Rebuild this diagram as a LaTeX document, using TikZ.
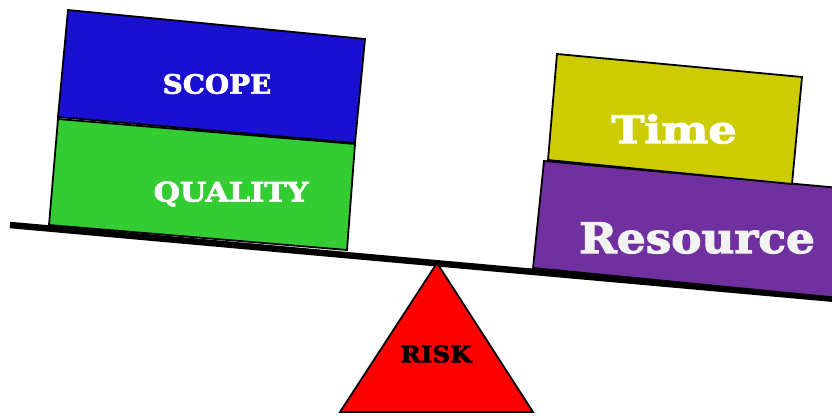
\documentclass[tikz,border=0pt]{standalone}
\usepackage{fontspec}
\setmainfont{DejaVu Serif}
\newfontfamily\heavy{DejaVu Serif}[UprightFont=* Bold, FakeBold=2.5]
\definecolor{scopeblue}{HTML}{1A10D2}
\definecolor{qualgreen}{HTML}{33CC33}
\definecolor{timeyellow}{HTML}{CCCC00}
\definecolor{respurple}{HTML}{7030A0}
\definecolor{riskred}{HTML}{FF0000}
\tikzset{
  block/.style={draw=black, line width=1.8pt, line join=miter},
  label/.style={text=white, inner sep=0pt, anchor=center},
  beam/.style={line width=6.5pt, draw=black},
}
\begin{document}
\begin{tikzpicture}[x=1pt,y=-1pt]
  \useasboundingbox[fill=white] (0,0) rectangle (832,415);
  % lever beam
  \coordinate (bl) at (10,225);
  \coordinate (br) at (836,299);
  \draw[beam] (bl) -- (br);
  % left pan: scope on quality
  \fill[qualgreen, block] (58,119) -- (355,144) -- (347,250) -- (49,225) -- cycle;
  \fill[scopeblue, block] (68,10) -- (365,39) -- (355,143) -- (58,117) -- cycle;
  \node[label, font=\heavy\fontsize{26.5}{26.5}\selectfont, xscale=1.05] (scope) at (217,84) {SCOPE};
  \node[label, font=\heavy\fontsize{27}{27}\selectfont, xscale=1.12] (quality) at (231,194) {QUALITY};
  % right pan: time on resource
  \fill[respurple, block] (544,161) -- (840,188) -- (840,298) -- (533,268) -- cycle;
  \fill[timeyellow, block] (557,54) -- (802,77) -- (792,184) -- (548,160) -- cycle;
  \node[label, font=\heavy\fontsize{38}{38}\selectfont, xscale=1.17] (time) at (674,129) {Time};
  \node[label, text=white!95!black, font=\heavy\fontsize{42}{42}\selectfont, xscale=1.08] (resource) at (697,238) {Resource};
  % fulcrum
  \fill[riskred, block] (437,263) -- (533,412) -- (340,412) -- cycle;
  \node[label, text=black, font=\heavy\fontsize{23}{23}\selectfont, xscale=1.07] (risk) at (436,354) {RISK};
\end{tikzpicture}
\end{document}
